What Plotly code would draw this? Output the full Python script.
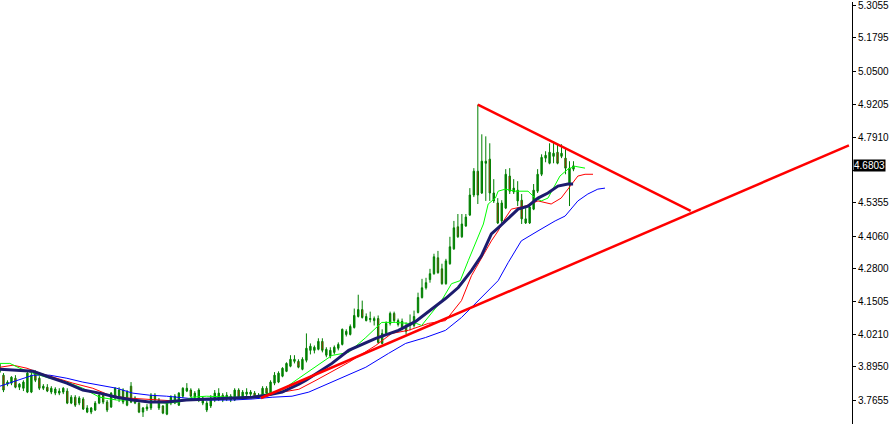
import plotly.graph_objects as go

# ---- candle data (bar index, OHLC) ----
bars = list(range(145))
open_ = [3.874,3.863,3.828,3.832,3.851,3.816,3.812,3.797,3.797,3.875,
         3.851,3.812,3.816,3.797,3.793,3.793,3.797,3.801,3.754,3.777,
         3.754,3.770,3.719,3.719,3.727,3.754,3.785,3.758,3.739,3.774,
         3.774,3.805,3.746,3.820,3.754,3.754,3.719,3.731,3.735,3.785,
         3.735,3.743,3.711,3.754,3.754,3.746,3.781,3.801,3.805,3.777,
         3.766,3.754,3.727,3.743,3.766,3.770,3.785,3.770,3.766,3.766,
         3.805,3.777,3.789,3.789,3.793,3.774,3.777,3.812,3.793,3.832,
         3.836,3.859,3.878,3.898,3.917,3.917,3.886,3.921,3.960,3.960,
         3.964,3.995,3.941,3.937,3.952,3.968,3.983,4.022,4.022,4.049,
         4.092,4.119,4.076,4.080,4.076,4.084,3.987,4.026,4.065,4.104,
         4.061,4.049,4.057,4.057,4.057,4.108,4.166,4.204,4.236,4.259,
         4.321,4.278,4.220,4.298,4.356,4.442,4.403,4.445,4.488,4.566,
         4.659,4.574,4.690,4.706,4.543,4.535,4.465,4.515,4.640,4.578,
         4.543,4.546,4.457,4.457,4.511,4.581,4.647,4.710,4.690,4.717,
         4.733,4.717,4.710,4.605,4.667]
high = [3.913,3.871,3.843,3.859,3.863,3.832,3.843,3.875,3.882,3.882,
        3.859,3.828,3.828,3.820,3.816,3.812,3.816,3.812,3.785,3.785,
        3.781,3.777,3.746,3.739,3.762,3.793,3.793,3.766,3.797,3.816,
        3.816,3.812,3.805,3.836,3.781,3.758,3.739,3.750,3.793,3.793,
        3.774,3.746,3.766,3.785,3.789,3.797,3.816,3.832,3.812,3.801,
        3.812,3.781,3.762,3.785,3.805,3.812,3.793,3.797,3.789,3.812,
        3.812,3.805,3.812,3.805,3.801,3.793,3.820,3.820,3.843,3.875,
        3.878,3.894,3.913,3.941,3.941,3.925,3.933,4.026,3.987,3.979,
        4.007,4.007,3.972,3.972,3.979,3.991,4.045,4.042,4.061,4.123,
        4.177,4.154,4.104,4.111,4.092,4.096,4.042,4.073,4.111,4.111,
        4.084,4.084,4.069,4.100,4.115,4.185,4.239,4.243,4.278,4.337,
        4.348,4.298,4.317,4.403,4.465,4.492,4.492,4.492,4.593,4.671,
        4.919,4.803,4.795,4.768,4.628,4.554,4.546,4.667,4.671,4.628,
        4.620,4.570,4.515,4.531,4.609,4.667,4.725,4.737,4.768,4.776,
        4.764,4.764,4.745,4.698,4.698]
low = [3.867,3.797,3.820,3.824,3.812,3.805,3.801,3.793,3.793,3.836,
       3.805,3.805,3.797,3.789,3.785,3.785,3.789,3.750,3.750,3.739,
       3.746,3.727,3.715,3.711,3.723,3.750,3.750,3.719,3.735,3.766,
       3.758,3.750,3.742,3.754,3.750,3.715,3.700,3.723,3.727,3.758,
       3.727,3.711,3.707,3.746,3.750,3.743,3.774,3.797,3.777,3.770,
       3.758,3.746,3.719,3.735,3.758,3.762,3.758,3.762,3.758,3.762,
       3.770,3.770,3.781,3.781,3.774,3.770,3.774,3.785,3.789,3.824,
       3.832,3.855,3.875,3.894,3.909,3.890,3.882,3.913,3.944,3.948,
       3.960,3.952,3.933,3.929,3.944,3.960,3.979,4.014,4.018,4.045,
       4.088,4.084,4.073,4.069,4.057,3.987,3.983,4.018,4.057,4.069,
       4.053,4.038,4.022,4.038,4.049,4.104,4.162,4.197,4.224,4.255,
       4.259,4.216,4.216,4.294,4.352,4.399,4.399,4.442,4.484,4.558,
       4.531,4.570,4.543,4.543,4.535,4.453,4.453,4.511,4.570,4.570,
       4.523,4.453,4.453,4.453,4.507,4.574,4.640,4.694,4.686,4.690,
       4.686,4.710,4.647,4.523,4.659]
close = [3.906,3.805,3.836,3.855,3.816,3.828,3.836,3.871,3.863,3.843,
         3.812,3.820,3.801,3.812,3.809,3.801,3.812,3.754,3.777,3.746,
         3.774,3.731,3.735,3.735,3.754,3.785,3.758,3.727,3.793,3.812,
         3.805,3.758,3.797,3.758,3.774,3.719,3.735,3.739,3.785,3.766,
         3.766,3.715,3.758,3.777,3.781,3.793,3.812,3.812,3.781,3.793,
         3.805,3.774,3.754,3.774,3.793,3.793,3.766,3.785,3.781,3.805,
         3.777,3.797,3.797,3.797,3.777,3.785,3.812,3.793,3.836,3.863,
         3.871,3.890,3.909,3.925,3.925,3.894,3.925,3.968,3.976,3.972,
         3.995,3.960,3.964,3.960,3.972,3.983,4.042,4.034,4.053,4.096,
         4.119,4.088,4.092,4.084,4.084,3.991,4.026,4.065,4.104,4.076,
         4.076,4.073,4.034,4.065,4.092,4.166,4.204,4.224,4.259,4.325,
         4.263,4.220,4.309,4.364,4.438,4.403,4.453,4.480,4.566,4.659,
         4.566,4.698,4.698,4.574,4.574,4.457,4.535,4.647,4.581,4.593,
         4.585,4.473,4.473,4.519,4.585,4.647,4.713,4.721,4.733,4.729,
         4.690,4.729,4.671,4.671,4.680]

# ---- indicator lines (bar position, price) ----
lips_x = [0.1,2.6,5.1,8.4,12.6,16.9,20.9,25.1,29.4,33.4,37.6,41.9,45.1,48.4,51.9,58.4,63.4,
          66.9,70.9,75.1,83.4,87.6,91.9,95.9,99.4,102.6,104.6,105.9,108.4,110.9,113.4,115.6,
          117.6,119.6,121.4,122.6,124.4,125.1,126.9,129.4,132.6,134.4,135.9,137.6,138.9,140.6,
          142.6,144.4,146.9]
lips_y = [3.909,3.909,3.890,3.871,3.851,3.836,3.812,3.777,3.766,3.766,3.758,3.754,3.758,3.777,
          3.781,3.777,3.777,3.789,3.805,3.851,3.940,3.952,4.010,4.069,4.069,4.065,4.065,4.057,
          4.104,4.154,4.220,4.232,4.310,4.387,4.453,4.531,4.554,4.581,4.589,4.581,4.581,4.554,
          4.543,4.554,4.593,4.640,4.667,4.678,4.671]
teeth_x = [0.1,3.4,6.9,10.1,14.4,18.4,23.4,27.6,31.9,35.9,40.1,44.4,48.4,52.6,58.4,63.4,66.9,
           70.9,75.1,79.4,87.6,94.4,98.4,102.6,107.6,111.9,115.9,118.4,120.9,123.4,125.1,
           126.9,128.4,131.9,135.1,136.9,138.4,140.9,143.1,145.1,146.9,148.9]
teeth_y = [3.894,3.902,3.890,3.871,3.851,3.832,3.812,3.785,3.774,3.770,3.766,3.762,3.766,3.770,
           3.774,3.777,3.781,3.797,3.808,3.843,3.913,3.979,4.026,4.038,4.065,4.076,4.154,4.251,
           4.321,4.387,4.426,4.476,4.511,4.523,4.543,4.535,4.531,4.554,4.601,4.640,4.647,4.647]
ma_x = [0.1,4.4,8.4,12.6,16.9,20.9,25.1,29.4,33.4,37.6,41.9,46.9,51.9,58.4,63.4,66.9,70.9,
        75.1,76.9,83.4,87.6,94.4,100.1,104.4,108.4,111.9,115.1,118.4,120.9,123.4,125.1,
        126.9,130.1,132.6,135.1,137.6,140.1,142.6,143.9]
ma_y = [3.886,3.882,3.878,3.855,3.832,3.805,3.793,3.777,3.766,3.758,3.758,3.766,3.770,3.774,
        3.777,3.785,3.797,3.828,3.843,3.909,3.960,4.007,4.038,4.073,4.119,4.162,4.205,4.271,
        4.329,4.414,4.438,4.465,4.511,4.523,4.554,4.574,4.601,4.609,4.609]
jaw_x = [0.1,4.4,8.4,12.6,16.9,20.9,25.1,29.4,33.4,37.6,41.9,45.9,51.9,58.4,63.4,68.4,73.4,
         77.6,84.4,91.9,97.6,101.9,106.9,111.9,115.9,120.9,125.1,127.6,130.9,135.1,139.4,
         141.9,145.1,147.6,150.1,151.9]
jaw_y = [3.820,3.843,3.863,3.863,3.851,3.836,3.824,3.812,3.793,3.785,3.781,3.774,3.766,3.766,
         3.770,3.777,3.781,3.797,3.843,3.894,3.948,3.987,4.010,4.038,4.088,4.166,4.232,4.302,
         4.387,4.426,4.465,4.484,4.543,4.570,4.589,4.593]

# ---- drawn trend lines (bar position, price) ----
upper_line_x = [120.0, 173.4]
upper_line_y = [4.919, 4.504]
lower_line_x = [65.6, 213.1]
lower_line_y = [3.774, 4.760]

# ---- price axis ----
tick_vals = [5.3055, 5.1795, 5.0500, 4.9205, 4.7910, 4.6630, 4.5355, 4.4060,
             4.2800, 4.1505, 4.0210, 3.8950, 3.7655]
tick_text = ["5.3055", "5.1795", "5.0500", "4.9205", "4.7910", "", "4.5355",
             "4.4060", "4.2800", "4.1505", "4.0210", "3.8950", "3.7655"]
last_price = 4.6803

fig = go.Figure()
fig.add_trace(go.Scatter(x=jaw_x, y=jaw_y, mode="lines",
                         line=dict(color="#0000FF", width=1), hoverinfo="skip"))
fig.add_trace(go.Scatter(x=teeth_x, y=teeth_y, mode="lines",
                         line=dict(color="#FF0000", width=1), hoverinfo="skip"))
fig.add_trace(go.Scatter(x=lips_x, y=lips_y, mode="lines",
                         line=dict(color="#00FF00", width=1), hoverinfo="skip"))
fig.add_trace(go.Candlestick(
    x=bars, open=open_, high=high, low=low, close=close,
    increasing=dict(line=dict(color="#008000", width=1), fillcolor="#008000"),
    decreasing=dict(line=dict(color="#008000", width=1), fillcolor="#FF0000"),
    whiskerwidth=0, hoverinfo="skip"))
fig.add_trace(go.Scatter(x=ma_x, y=ma_y, mode="lines",
                         line=dict(color="#1C1C6E", width=3), hoverinfo="skip"))
fig.add_trace(go.Scatter(x=upper_line_x, y=upper_line_y, mode="lines",
                         line=dict(color="#FF0000", width=2.5), hoverinfo="skip"))
fig.add_trace(go.Scatter(x=lower_line_x, y=lower_line_y, mode="lines",
                         line=dict(color="#FF0000", width=2.5), hoverinfo="skip"))

fig.add_annotation(x=1, xref="paper", y=last_price, yref="y", text="4.6803",
                   showarrow=False, xanchor="left", xshift=1,
                   bgcolor="#000000", borderpad=0,
                   font=dict(color="#FFFFFF", size=10, family="Liberation Sans"))

fig.update_layout(
    width=889, height=424,
    margin=dict(l=0, r=34, t=0, b=0),
    paper_bgcolor="#FFFFFF", plot_bgcolor="#FFFFFF",
    showlegend=False, boxgap=0.5,
    xaxis=dict(range=[0.125, 213.875], visible=False, rangeslider=dict(visible=False),
               fixedrange=True),
    yaxis=dict(range=[3.6725, 5.3193], side="right", showgrid=False, zeroline=False,
               showline=True, linecolor="#000000", linewidth=1,
               ticks="outside", ticklen=3, tickcolor="#000000",
               tickvals=tick_vals, ticktext=tick_text, ticklabeloverflow="allow",
               tickfont=dict(family="Liberation Sans", size=10, color="#000000"),
               fixedrange=True),
)

fig.write_html("out.html", config={"displayModeBar": False},
               post_script="document.body.style.margin='0';document.body.style.overflow='hidden';")
